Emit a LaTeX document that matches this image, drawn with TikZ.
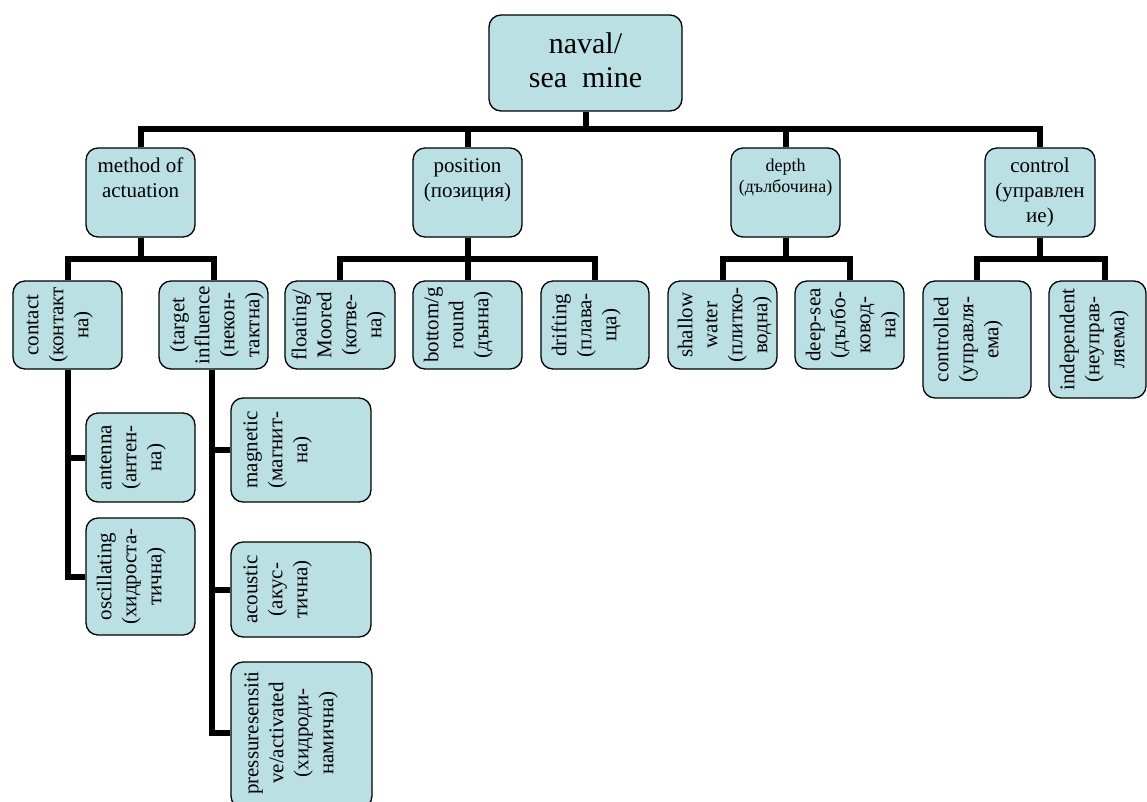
\documentclass[tikz,border=0pt]{standalone}
\usepackage{fontspec}
\setmainfont{Liberation Serif}
\definecolor{boxfill}{RGB}{186,224,228}
\pgfdeclarelayer{bg}
\pgfsetlayers{bg,main}
\newcommand{\tbx}[1]{\parbox[t]{220pt}{\centering #1}}
\tikzset{
  box/.style={draw=black, line width=1.3pt, fill=boxfill, rounded corners=12pt, inner sep=0pt},
  conn/.style={draw=black, line width=6pt, line join=miter},
  troot/.style={inner sep=0pt, anchor=base, font=\fontsize{30}{34}\selectfont},
  ttwo/.style={inner sep=0pt, anchor=base, font=\fontsize{21}{25}\selectfont},
  tdepth/.style={inner sep=0pt, anchor=base, font=\fontsize{18}{21}\selectfont},
  tthree/.style={inner sep=0pt, anchor=base, rotate=90, font=\fontsize{21}{25}\selectfont}
}
\begin{document}
\begin{tikzpicture}[x=1pt,y=-1pt]
\useasboundingbox (0,0) rectangle (1147,801);
\begin{scope}
\clip (0,0) rectangle (1147,801);
% level 1
\node[box, minimum width=193pt, minimum height=96pt] (root) at (585.5,63) {};
% level 2
\node[box, minimum width=109pt, minimum height=89pt] (method) at (140.5,192.5) {};
\node[box, minimum width=109pt, minimum height=89pt] (position) at (467.5,192.5) {};
\node[box, minimum width=109pt, minimum height=89pt] (depth) at (785.5,192.5) {};
\node[box, minimum width=110pt, minimum height=89pt] (control) at (1040,192.5) {};
% level 3
\node[box, minimum width=109pt, minimum height=88pt] (contact) at (67.5,325) {};
\node[box, minimum width=109pt, minimum height=88pt] (target) at (213.5,325) {};
\node[box, minimum width=110pt, minimum height=88pt] (floating) at (340,325) {};
\node[box, minimum width=109pt, minimum height=88pt] (bottom) at (467.5,325) {};
\node[box, minimum width=108pt, minimum height=88pt] (drifting) at (595,325) {};
\node[box, minimum width=109pt, minimum height=88pt] (shallow) at (722.5,325) {};
\node[box, minimum width=109pt, minimum height=88pt] (deepsea) at (849.5,325) {};
\node[box, minimum width=108pt, minimum height=117pt] (controlled) at (977,339.5) {};
\node[box, minimum width=97pt, minimum height=117pt] (independent) at (1097.5,339.5) {};
% level 4
\node[box, minimum width=109pt, minimum height=89pt] (antenna) at (140.5,457.5) {};
\node[box, minimum width=109pt, minimum height=117pt] (oscillating) at (140.5,576.5) {};
\node[box, minimum width=140pt, minimum height=104pt] (magnetic) at (301,450) {};
\node[box, minimum width=140pt, minimum height=95pt] (acoustic) at (301,589.5) {};
\node[box, minimum width=141pt, minimum height=146pt] (pressure) at (301.5,735) {};
\end{scope}

% bus coordinates
\coordinate (bus0) at (0,129);
\coordinate (bus1) at (0,259);

\begin{pgfonlayer}{bg}
\draw[conn] (root.south) -- (root.south |- bus0) -| (method.north);
\draw[conn] (root.south) -- (root.south |- bus0) -| (position.north);
\draw[conn] (root.south) -- (root.south |- bus0) -| (depth.north);
\draw[conn] (root.south) -- (root.south |- bus0) -| (control.north);
\draw[conn] (method.south) -- (method.south |- bus1) -| (contact.north);
\draw[conn] (method.south) -- (method.south |- bus1) -| (target.north);
\draw[conn] (position.south) -- (position.south |- bus1) -| (floating.north);
\draw[conn] (position.south) -- (position.south |- bus1) -| (bottom.north);
\draw[conn] (position.south) -- (position.south |- bus1) -| (drifting.north);
\draw[conn] (depth.south) -- (depth.south |- bus1) -| (shallow.north);
\draw[conn] (depth.south) -- (depth.south |- bus1) -| (deepsea.north);
\draw[conn] (control.south) -- (control.south |- bus1) -| (controlled.north);
\draw[conn] (control.south) -- (control.south |- bus1) -| ([xshift=7pt]independent.north);
\draw[conn] (contact.south) |- (antenna.west);
\draw[conn] (contact.south) |- (oscillating.west);
\draw[conn] ([xshift=-1.5pt]target.south) |- (magnetic.west);
\draw[conn] ([xshift=-1.5pt]target.south) |- (acoustic.west);
\draw[conn] ([xshift=-1.5pt]target.south) |- ([yshift=2pt]pressure.west);
\end{pgfonlayer}

% texts
\node[troot] (root-t) at ([yshift=-39pt]root.north) {\tbx{naval/\\sea\ \ mine}};
\node[ttwo] (method-t) at ([yshift=-25pt]method.north) {\tbx{method of\\actuation}};
\node[ttwo] (position-t) at ([yshift=-25pt]position.north) {\tbx{position\\(позиция)}};
\node[tdepth] (depth-t) at ([yshift=-24pt]depth.north) {\tbx{depth\\(дълбочина)}};
\node[ttwo] (control-t) at ([yshift=-25pt]control.north) {\tbx{control\\(управлен\\ие)}};

\node[tthree] (contact-t) at ([xshift=26pt]contact.west) {\tbx{contact\\(контакт\\на)}};
\node[tthree] (target-t) at ([xshift=26pt]target.west) {\tbx{(target\\influence\\(некон-\\тактна)}};
\node[tthree] (floating-t) at ([xshift=22pt]floating.west) {\tbx{floating/\\Moored\\(котве-\\на)}};
\node[tthree] (bottom-t) at ([xshift=26pt]bottom.west) {\tbx{bottom/g\\round\\(дънна)}};
\node[tthree] (drifting-t) at ([xshift=26pt]drifting.west) {\tbx{drifting\\(плава-\\ща)}};
\node[tthree] (shallow-t) at ([xshift=25pt]shallow.west) {\tbx{shallow\\water\\(плитко-\\водна)}};
\node[tthree] (deepsea-t) at ([xshift=26pt]deepsea.west) {\tbx{deep-sea\\(дълбо-\\ковод-\\на)}};
\node[tthree] (controlled-t) at ([xshift=26pt]controlled.west) {\tbx{controlled\\(управля-\\ема)}};
\node[tthree] (independent-t) at ([xshift=26pt]independent.west) {\tbx{independent\\(неуправ-\\ляема)}};
\node[tthree] (antenna-t) at ([xshift=26pt]antenna.west) {\tbx{antenna\\(антен-\\на)}};
\node[tthree] (oscillating-t) at ([xshift=26pt]oscillating.west) {\tbx{oscillating\\(хидроста-\\тична)}};
\node[tthree] (magnetic-t) at ([xshift=27pt]magnetic.west) {\tbx{magnetic\\(магнит-\\на)}};
\node[tthree] (acoustic-t) at ([xshift=27pt]acoustic.west) {\tbx{acoustic\\(акус-\\тична)}};
\node[tthree] (pressure-t) at ([xshift=28pt,yshift=2pt]pressure.west) {\tbx{pressuresensiti\\ve/activated\\(хидроди-\\намична)}};
\end{tikzpicture}
\end{document}
